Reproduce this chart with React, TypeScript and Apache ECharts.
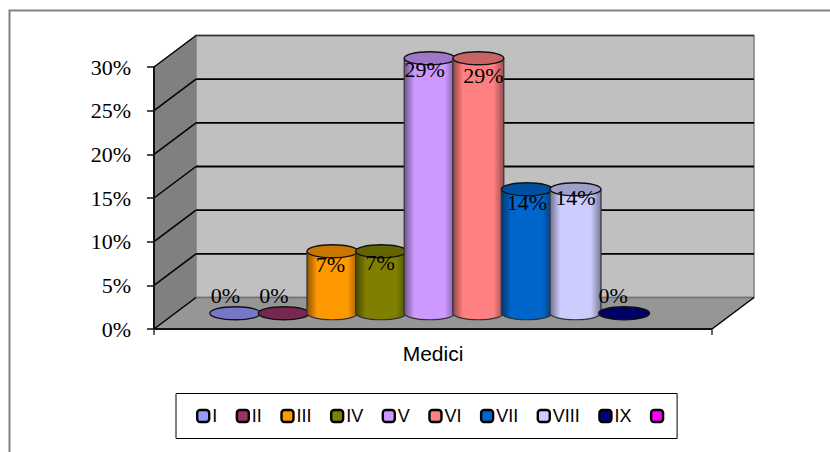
import React, { useEffect, useRef } from "react";
import * as echarts from "echarts";

const categories = ["Medici"];
const seriesNames = ["I", "II", "III", "IV", "V", "VI", "VII", "VIII", "IX", " "];
const seriesValues: (number | null)[] = [0, 0, 7.1, 7.1, 29.2, 29.2, 14.2, 14.2, 0, null];
const seriesColors = ["#9999FF", "#993366", "#FF9900", "#808000", "#CC99FF", "#FF8080", "#0066CC", "#CCCCFF", "#000080", "#FF00FF"];
const yTicks = [0, 5, 10, 15, 20, 25, 30];

// styling only: label nudges relative to the top of each cylinder
const labelNudges = [[-10, -18], [-10, -18], [-2, 13], [-1, 11], [-5, 11], [5, 17], [0, 13], [0, 8], [-11, -18], [0, 0]];

const DEPTH_X = 42;
const DEPTH_Y = 31.5;
const SERIF = "'Liberation Serif','Times New Roman',serif";
const SANS = "'Liberation Sans',Arial,sans-serif";

function shade(hex: string, k: number) {
  const n = parseInt(hex.slice(1), 16);
  const c = [(n >> 16) & 255, (n >> 8) & 255, n & 255].map((v) => Math.round(v * k));
  return `rgb(${c[0]},${c[1]},${c[2]})`;
}

const renderFrame = (params: any, api: any) => {
  const cs = params.coordSys;
  const L = cs.x;
  const R = cs.x + cs.width;
  const T = api.coord([0, 30])[1];
  const B = api.coord([0, 0])[1];
  const dx = DEPTH_X;
  const dy = DEPTH_Y;
  const children: any[] = [
    { type: "polygon", shape: { points: [[L + dx, T - dy], [R + dx, T - dy], [R + dx, B - dy], [L + dx, B - dy]] }, style: { fill: "#C0C0C0", stroke: "#808080", lineWidth: 1.5 } },
    { type: "polygon", shape: { points: [[L, T], [L + dx, T - dy], [L + dx, B - dy], [L, B]] }, style: { fill: "#808080" } },
    { type: "polygon", shape: { points: [[L, B], [L + dx, B - dy], [R + dx, B - dy], [R, B]] }, style: { fill: "#969696" } },
    { type: "line", shape: { x1: L + dx, y1: T - dy, x2: R + dx, y2: T - dy }, style: { stroke: "#303030", lineWidth: 1.5 } },
    { type: "line", shape: { x1: L + dx, y1: B - dy, x2: R + dx, y2: B - dy }, style: { stroke: "#707070", lineWidth: 1.5 } },
  ];
  yTicks.forEach((t) => {
    const y = api.coord([0, t])[1];
    children.push({ type: "line", shape: { x1: L, y1: y, x2: L + dx, y2: y - dy }, style: { stroke: "#000", lineWidth: 1.5 } });
    if (t > 0 && t < 30) {
      children.push({ type: "line", shape: { x1: L + dx, y1: y - dy, x2: R + dx, y2: y - dy }, style: { stroke: "#000", lineWidth: 1.8 } });
    }
  });
  children.push({ type: "line", shape: { x1: R, y1: B, x2: R + dx, y2: B - dy }, style: { stroke: "#000", lineWidth: 1.5 } });
  children.push({ type: "line", shape: { x1: L, y1: B, x2: R, y2: B }, style: { stroke: "#111", lineWidth: 2 } });
  return { type: "group", children };
};

const makeCylinder = (index: number) => (params: any, api: any) => {
  const v = api.value(1);
  const cs = params.coordSys;
  const base = seriesColors[index];
  const step = cs.width * 0.0871;
  const start = cs.x + cs.width * 0.0645;
  const cx = start + step * (index + 0.5) + DEPTH_X / 2;
  const bottom = api.coord([0, 0])[1] - DEPTH_Y / 2;
  const top = api.coord([0, v])[1] - DEPTH_Y / 2;
  const rx = 25.5;
  const ry = 6.5;
  const children: any[] = [];
  if (v > 0) {
    const d = `M${cx - rx} ${top}L${cx - rx} ${bottom}A${rx} ${ry} 0 0 0 ${cx + rx} ${bottom}L${cx + rx} ${top}Z`;
    children.push({
      type: "path",
      shape: { pathData: d, x: cx - rx, y: top, width: rx * 2, height: bottom - top + ry, layout: "cover" },
      style: {
        fill: new echarts.graphic.LinearGradient(0, 0, 1, 0, [
          { offset: 0, color: shade(base, 0.55) },
          { offset: 0.2, color: base },
          { offset: 0.8, color: base },
          { offset: 1, color: shade(base, 0.6) },
        ]),
        stroke: "#333",
        lineWidth: 1.2,
      },
    });
  }
  children.push({
    type: "ellipse",
    shape: { cx, cy: top, rx, ry },
    style: { fill: shade(base, 0.78), stroke: "#111", lineWidth: 1.3 },
  });
  const n = labelNudges[index];
  children.push({
    type: "text",
    z2: 20,
    style: {
      text: `${Math.round(v)}%`,
      x: cx + n[0],
      y: top + n[1],
      fill: "#000",
      fontFamily: SERIF,
      fontSize: 22,
      align: "center",
      verticalAlign: "middle",
    },
  });
  return { type: "group", children };
};

export default function App() {
  const ref = useRef<HTMLDivElement>(null);
  useEffect(() => {
    const chart = echarts.init(ref.current!, undefined, { renderer: "svg" });
    chart.setOption({
      animation: false,
      backgroundColor: "#fff",
      grid: { left: 154, top: 67, width: 558, height: 262, containLabel: false },
      graphic: [
        {
          type: "polyline",
          shape: { points: [[9.5, 452], [9.5, 10.5], [830, 10.5]] },
          style: { stroke: "#808080", lineWidth: 2, fill: "none" },
        },
      ],
      xAxis: {
        type: "category",
        data: categories,
        z: 5,
        axisLine: { show: false },
        axisTick: { show: true, length: 6, lineStyle: { color: "#333", width: 1.5 } },
        axisLabel: { margin: 14, color: "#000", fontFamily: SANS, fontSize: 21 },
      },
      yAxis: {
        type: "value",
        min: 0,
        max: 30,
        interval: 5,
        z: 5,
        splitLine: { show: false },
        axisLine: { show: true, lineStyle: { color: "#111", width: 2 } },
        axisTick: { show: true, length: 7, lineStyle: { color: "#111", width: 1.5 } },
        axisLabel: { margin: 23, color: "#000", fontFamily: SERIF, fontSize: 22, formatter: "{value}%" },
      },
      legend: {
        left: 176,
        top: 393.5,
        orient: "horizontal",
        padding: [13.5, 6, 13.5, 20],
        itemGap: 18.45,
        itemWidth: 12,
        itemHeight: 12,
        borderColor: "#000",
        borderWidth: 1,
        backgroundColor: "#fff",
        icon: "roundRect",
        selectedMode: false,
        textStyle: { color: "#000", fontFamily: SANS, fontSize: 18, padding: [0, 0, 0, -2] },
        data: seriesNames.map((name, i) => ({
          name,
          itemStyle: { color: seriesColors[i], borderColor: "#000", borderWidth: 2.4 },
        })),
      },
      series: [
        {
          type: "custom",
          name: "frame",
          coordinateSystem: "cartesian2d",
          silent: true,
          z: 1,
          data: [[0, 0]],
          encode: { x: 0, y: 1 },
          renderItem: renderFrame,
        },
        ...seriesNames.map((name, i) => ({
          type: "custom",
          name,
          coordinateSystem: "cartesian2d",
          z: 10 + i,
          itemStyle: { color: seriesColors[i] },
          data: seriesValues[i] === null ? [] : [[0, seriesValues[i]]],
          encode: { x: 0, y: 1 },
          renderItem: makeCylinder(i),
        })),
      ],
    });
    return () => chart.dispose();
  }, []);
  return <div ref={ref} style={{ position: "fixed", left: 0, top: 0, width: 830, height: 452 }} />;
}
